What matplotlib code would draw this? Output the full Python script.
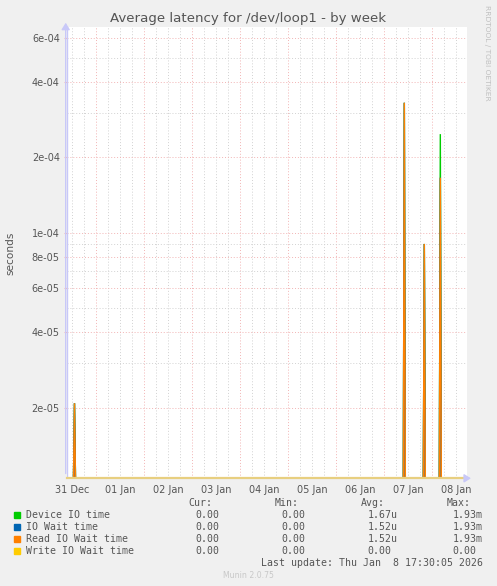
import numpy as np
import matplotlib
matplotlib.use("Agg")
import matplotlib.pyplot as plt

# ---------------- data ----------------
# x in days from "31 Dec" label position
x_labels = ["31 Dec", "01 Jan", "02 Jan", "03 Jan", "04 Jan", "05 Jan", "06 Jan", "07 Jan", "08 Jan"]
spike_days = [0.054, 6.918, 7.334, 7.667]          # times of the latency spikes (days)
device_io_time = [2.08e-5, 3.31e-4, 9.02e-5, 2.48e-4]
io_wait_time = [2.08e-5, 3.31e-4, 9.02e-5, 1.66e-4]
read_io_wait_time = [2.08e-5, 3.31e-4, 9.02e-5, 1.66e-4]
write_io_wait_time = [0.0, 0.0, 0.0, 0.0]

y_major = [2e-5, 4e-5, 6e-5, 8e-5, 1e-4, 2e-4, 4e-4, 6e-4]
y_major_labels = ["2e-05", "4e-05", "6e-05", "8e-05", "1e-04", "2e-04", "4e-04", "6e-04"]
y_minor = [3e-5, 5e-5, 7e-5, 9e-5, 3e-4, 5e-4]

legend_names = ["Device IO time", "IO Wait time", "Read IO Wait time", "Write IO Wait time"]
legend_colors = ["#00cc00", "#0066b3", "#ff8000", "#ffcc00"]
cur_vals = [(0.0, ""), (0.0, ""), (0.0, ""), (0.0, "")]
min_vals = [(0.0, ""), (0.0, ""), (0.0, ""), (0.0, "")]
avg_vals = [(1.67, "u"), (1.52, "u"), (1.52, "u"), (0.0, "")]
max_vals = [(1.93, "m"), (1.93, "m"), (1.93, "m"), (0.0, "")]

title = "Average latency for /dev/loop1 - by week"
last_update = "Last update: Thu Jan  8 17:30:05 2026"

# ---------------- layout ----------------
W, H = 497, 586
DPI = 100
fig = plt.figure(figsize=(W / DPI, H / DPI), dpi=DPI)
fig.patch.set_facecolor("#f0f0f0")

L, R, T, B = 66.7, 466.7, 26.7, 478.3
ax = fig.add_axes([L / W, 1 - B / H, (R - L) / W, (B - T) / H])
ax.set_facecolor("white")
ax.set_yscale("log")
XMIN, XMAX = -0.108, 8.216
YMIN, YMAX = 1.042e-5, 6.67e-4
ax.set_xlim(XMIN, XMAX)
ax.set_ylim(YMIN, YMAX)
for s in ax.spines.values():
    s.set_visible(False)

TXT = "#555555"
RED = "#f2b4b4"
GRY = "#d2d2d2"
AXC = "#c8c8f8"
dot = (0, (1, 2))

# grid
for xv in np.arange(0.0, XMAX, 0.25):
    if abs((xv - 0.5) % 1.0) > 1e-6:
        ax.axvline(xv, color=GRY, lw=0.7, ls=dot, zorder=1)
for xv in np.arange(0.5, XMAX, 1.0):
    ax.axvline(xv, color=RED, lw=0.7, ls=dot, zorder=1)
for yv in y_minor:
    ax.axhline(yv, color=GRY, lw=0.7, ls=dot, zorder=1)
for yv in y_major:
    ax.axhline(yv, color=RED, lw=0.7, ls=dot, zorder=1)

# left axis line
ax.axvline(XMIN, color=AXC, lw=1.0, zorder=2)

# data lines (one 30-minute step on each side of each spike, zero clipped to the bottom)
step = 1.0 / 48.0

def draw(values, color, lw=1.0, z=3, fill=None):
    for t, v in zip(spike_days, values):
        v = max(v, YMIN)
        xs = [t - step, t, t + step]
        ys = [YMIN, v, YMIN]
        if fill is not None:
            ax.fill(xs, ys, color=fill, lw=0, zorder=z - 0.5)
        ax.plot(xs, ys, color=color, lw=lw, zorder=z, solid_joinstyle="miter")

draw(device_io_time, legend_colors[0], z=3)
draw(io_wait_time, legend_colors[1], z=4, fill="#b8863b")
draw(read_io_wait_time, legend_colors[2], z=5)
# zero-valued series clipped along the bottom edge
ax.plot([XMIN, XMAX], [YMIN, YMIN], color="#e8cf80", lw=1.6, zorder=6, clip_on=False)

# axes arrows
fig.add_artist(matplotlib.patches.FancyArrowPatch(
    (L - 1, H - B + 2), (L - 1, H - 20), transform=None, arrowstyle="-|>,head_length=4,head_width=2.5",
    color=AXC, lw=1, mutation_scale=1))
fig.add_artist(matplotlib.patches.FancyArrowPatch(
    (R - 2, H - B), (R + 7, H - B), transform=None, arrowstyle="-|>,head_length=4,head_width=2.5",
    color=AXC, lw=1, mutation_scale=1))

# ticks
ax.set_yticks(y_major)
ax.set_yticklabels(y_major_labels)
ax.set_yticks([], minor=True)
ax.tick_params(axis="y", which="major", length=2, width=0.8, color=RED, labelsize=7,
               labelcolor=TXT, pad=3)
ax.set_xticks(np.arange(len(x_labels)))
ax.set_xticklabels(x_labels)
ax.tick_params(axis="x", which="major", length=0, labelsize=7, labelcolor=TXT, pad=5)
ax.set_xticks([], minor=True)

# texts
fig.text(248 / W, 1 - 18.5 / H, title, ha="center", va="center", fontsize=9.6, color=TXT)
fig.text(10 / W, 1 - 253 / H, "seconds", ha="center", va="center", rotation=90, fontsize=7.6, color=TXT)
fig.text(487 / W, 1 - 53 / H, "RRDTOOL / TOBI OETIKER", ha="center", va="center", rotation=270,
         fontsize=5.4, color="#c0c0c0")
fig.text(248 / W, 1 - 575.3 / H, "Munin 2.0.75", ha="center", va="center", fontsize=5.6, color="#c8c8c8")

MONO = "DejaVu Sans Mono"
FS = 7.1
CW = 6.0
col_right = [225.3, 311.0, 397.3, 482.7]
headers = ["Cur:", "Min:", "Avg:", "Max:"]
hy = 503.3
for h, cr in zip(headers, col_right):
    fig.text((cr - 12.5) / W, 1 - hy / H, h, ha="right", va="center", fontsize=FS, family=MONO, color=TXT)

rows_y = [514.7, 526.7, 538.7, 550.7]
for i, name in enumerate(legend_names):
    y = rows_y[i]
    fig.add_artist(matplotlib.patches.Rectangle((14 / W, 1 - (y + 3) / H), 6 / W, 6 / H,
                                                transform=fig.transFigure, color=legend_colors[i]))
    fig.text(26.3 / W, 1 - y / H, name, ha="left", va="center", fontsize=FS, family=MONO, color=TXT)
    for vals, cr in zip([cur_vals, min_vals, avg_vals, max_vals], col_right):
        v, u = vals[i]
        s = f"{v:.2f}{u}"
        xr = cr if u else cr - CW
        fig.text(xr / W, 1 - y / H, s, ha="right", va="center", fontsize=FS, family=MONO, color=TXT)

fig.text(482.7 / W, 1 - 562.7 / H, last_update, ha="right", va="center", fontsize=FS, family=MONO, color=TXT)

fig.savefig("out.png", dpi=DPI, facecolor=fig.get_facecolor())
